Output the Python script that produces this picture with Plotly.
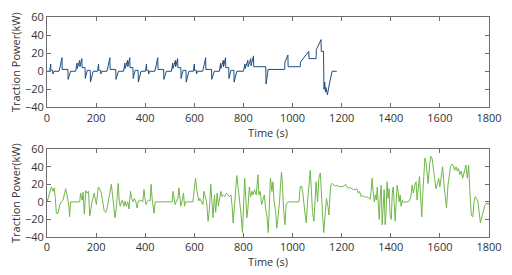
import plotly.graph_objects as go
from plotly.subplots import make_subplots

# NEDC-like traction power (top)
nedc_t = [0, 11, 15, 16, 23, 24, 28, 49, 55, 61, 62, 85, 86, 96, 117, 122, 123, 133, 134, 142, 143, 155, 156, 163, 164, 176, 177, 188,
          195, 206, 210, 211, 218, 219, 223, 244, 250, 256, 257, 280, 281, 291, 312, 317, 318, 328, 329, 337, 338, 350, 351, 358, 359, 371, 372, 383,
          390, 401, 405, 406, 413, 414, 418, 439, 445, 451, 452, 475, 476, 486, 507, 512, 513, 523, 524, 532, 533, 545, 546, 553, 554, 566, 567, 578,
          585, 596, 600, 601, 608, 609, 613, 634, 640, 646, 647, 670, 671, 681, 702, 707, 708, 718, 719, 727, 728, 740, 741, 748, 749, 761, 762, 773,
          780, 800, 806, 807, 818, 819, 830, 831, 841, 842, 891, 892, 899, 900, 968, 969, 981, 982, 1031, 1032, 1066, 1067, 1096, 1097, 1116, 1117,
          1126, 1128, 1131, 1134, 1136, 1142, 1150, 1161, 1180]
nedc_p = [0, 0, 8, 1, 1, -3, 0, 0, 7, 15, 2, 2, -9, 0, 0, 9, 3, 12, 5, 14, 4, 4, -8, -1, 1, 1, -12, 0,
          0, 0, 8, 1, 1, -3, 0, 0, 7, 15, 2, 2, -9, 0, 0, 9, 3, 12, 5, 15, 4, 4, -8, -1, 1, 1, -12, 0,
          0, 0, 8, 1, 1, -3, 0, 0, 7, 15, 2, 2, -9, 0, 0, 9, 3, 12, 5, 14, 4, 4, -8, -1, 1, 1, -12, 0,
          0, 0, 8, 1, 1, -3, 0, 0, 7, 15, 2, 2, -9, 0, 0, 9, 3, 12, 5, 15, 4, 4, -8, -1, 1, 1, -12, 0,
          0, 0, 8, 3, 12, 5, 14, 6, 17, 5, 5, -14, -1, 2, 2, 10, 18, 5, 5, 10, 22, 14, 14, 24, 35, 22,
          22, -20, -12, -23, -18, -26, -14, 0, 0]

# WLTC-like traction power (bottom)
wltc_t = [0, 8, 18, 25, 29, 34, 38, 45, 52, 58, 65, 72, 76, 83, 89, 92, 96, 133, 137, 143, 147, 152, 158, 163, 169, 174, 179, 185, 192,
          201, 209, 214, 221, 228, 233, 239, 244, 250, 256, 262, 266, 272, 277, 283, 287, 290, 294, 298, 303, 307, 313, 318, 323, 329, 334,
          340, 345, 351, 356, 361, 367, 372, 377, 383, 390, 395, 399, 403, 409, 414, 420, 424, 428, 432, 436, 441, 510, 513, 517, 522, 526,
          533, 537, 541, 545, 551, 556, 560, 564, 594, 599, 605, 611, 618, 622, 629, 635, 639, 645, 650, 656, 661, 667, 671, 676, 682, 687,
          693, 698, 702, 708, 713, 718, 724, 731, 737, 743, 749, 754, 758, 764, 769, 773, 779, 784, 790, 796, 800, 805, 810, 814, 818, 824,
          829, 835, 839, 845, 852, 859, 863, 868, 874, 879, 885, 890, 896, 901, 906, 910, 916, 920, 925, 931, 936, 942, 947, 951, 955, 959,
          963, 969, 974, 978, 984, 1026, 1031, 1037, 1042, 1049, 1056, 1061, 1067, 1072, 1077, 1081, 1087, 1092, 1096, 1102, 1107, 1113,
          1118, 1123, 1127, 1133, 1138, 1144, 1148, 1153, 1157, 1163, 1168, 1175, 1182, 1189, 1195, 1202, 1209, 1216, 1221, 1228, 1235,
          1242, 1248, 1255, 1262, 1268, 1273, 1279, 1284, 1289, 1294, 1300, 1305, 1311, 1316, 1320, 1324, 1328, 1333, 1337, 1341, 1345,
          1349, 1353, 1357, 1361, 1365, 1369, 1373, 1377, 1381, 1385, 1389, 1393, 1397, 1402, 1406, 1410, 1414, 1418, 1422, 1426, 1430,
          1434, 1438, 1442, 1447, 1451, 1456, 1470, 1476, 1482, 1487, 1492, 1498, 1503, 1507, 1511, 1517, 1521, 1526, 1530, 1534, 1539,
          1544, 1548, 1552, 1558, 1563, 1568, 1574, 1579, 1584, 1590, 1595, 1600, 1606, 1611, 1617, 1622, 1627, 1633, 1638, 1643, 1649,
          1654, 1660, 1666, 1671, 1676, 1682, 1687, 1693, 1700, 1706, 1712, 1717, 1723, 1728, 1734, 1739, 1744, 1749, 1755, 1760, 1765,
          1771, 1776, 1782, 1786, 1791, 1795, 1800]
wltc_p = [0, 8, 17, 12, 16, 4, -13, -13, -3, 0, 2, 10, 15, 6, -5, -17, 0, 0, 10, 2, 11, -14, 13, 10, 12, -16, -5, 2, 10,
          -3, 17, 15, 10, 0, -10, -12, -8, 1, 12, 20, 10, -7, -18, -5, 12, 21, 2, -5, 0, 2, -5, 1, -5, 0, -8,
          12, 4, 0, 4, 1, -7, 1, 1, 2, 0, 14, 4, -3, 1, 2, 1, 20, 4, -5, -13, 0, 0, 12, 2, -3, 0,
          4, 16, 4, -5, 2, 10, -5, 0, 0, 10, 27, 12, 1, 4, 1, -3, 12, 6, 0, -22, -10, 20, 1, -18, 8, -12,
          10, -5, 2, 12, 6, 8, 6, 10, 8, 6, 8, -5, -24, 1, 21, 30, 15, -3, -14, -35, 2, 27, 2, -18, -8, 17,
          6, 12, 8, 14, 8, 31, 8, 12, -3, 2, 8, -7, -17, -35, 8, 27, 12, 23, 0, -11, -30, -15, 0, 19, 34, 19,
          -7, -26, -3, -1, 0, 0, 17, 18, 10, -9, -24, 0, 19, 36, 12, -11, -22, 12, 23, 0, 27, 33,
          0, -18, -35, -11, 4, -5, -15, 10, 20, 21, 19, 18, 19, 17, 18, 17, 18, 20, 17, 16, 16,
          15, 14, 14, 15, 10, 12, 6, 7, 6, 6, 5, 6, 4, 3, 12, 27, 12, 0, 8, 2, 17,
          -5, -20, 6, 19, -26, -7, 14, -26, -11, 23, 4, 15, -15, -20, 10, 17, -5, -22, 0, 19, 12,
          0, 8, -5, 2, -1, 0, 0, 1, 6, 19, 10, 19, 23, 2, 17, 29, 8, -17, 8, 36, 50,
          44, 27, 21, 42, 52, 50, 35, 23, 15, 21, 27, 17, 27, 40, 19, 8, -7, 19, 34, 40, 43,
          42, 36, 40, 35, 38, 31, 35, 27, 36, 42, 27, 42, 8, -15, -17, 0, 6, 4, 0, -11, -24,
          -17, -11, -5, -3, -1, -3, -1]

x_ticks = [0, 200, 400, 600, 800, 1000, 1200, 1400, 1600, 1800]
y_ticks = [-40, -20, 0, 20, 40, 60]

FONT = "Open Sans"

fig = make_subplots(rows=2, cols=1)
fig.add_trace(go.Scatter(x=nedc_t, y=nedc_p, mode="lines",
                         line=dict(color="#1d4e80", width=1)), row=1, col=1)
fig.add_trace(go.Scatter(x=wltc_t, y=wltc_p, mode="lines",
                         line=dict(color="#70b648", width=1)), row=2, col=1)

axis_common = dict(showgrid=False, zeroline=False, showline=True, linecolor="#6e6e6e",
                   linewidth=1, mirror="ticks", ticks="inside", ticklen=4, tickcolor="#6e6e6e",
                   automargin=False,
                   tickfont=dict(family=FONT, size=11, color="#333333"))

domains = {1: [0.589, 1.0], 2: [0.0, 0.399]}
for r in (1, 2):
    fig.update_xaxes(range=[0, 1800], tickvals=x_ticks,
                     title=dict(text="Time (s)", font=dict(family=FONT, size=11, color="#333333"), standoff=0),
                     row=r, col=1, **axis_common)
    fig.update_yaxes(range=[-40, 60], tickvals=y_ticks, domain=domains[r],
                     title=dict(text="Traction Power(kW)", font=dict(family=FONT, size=11, color="#333333"), standoff=2),
                     row=r, col=1, **axis_common)

fig.update_layout(width=512, height=275, showlegend=False,
                  margin=dict(l=47, r=23, t=17, b=38, autoexpand=False),
                  paper_bgcolor="white", plot_bgcolor="white")

fig.write_html("out.html", config={"displayModeBar": False},
               post_script="document.body.style.margin='0px';")
